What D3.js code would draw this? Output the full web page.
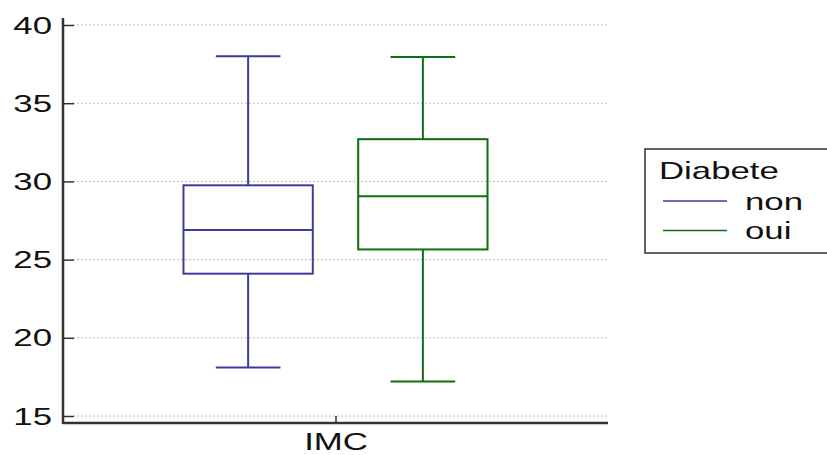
<!DOCTYPE html>
<html>
<head>
<meta charset="utf-8">
<script src="https://cdn.jsdelivr.net/npm/d3@7"></script>
<style>
  body { margin: 0; background: #fff; }
  text { font-family: "Liberation Sans", Arial, sans-serif; }
</style>
</head>
<body>
<svg id="chart" width="827" height="455"></svg>
<script>
const groups = ['non', 'oui'];
const colors = ['#3c3c9c', '#0f6e0f'];
const whiskerLow = [18.1, 17.2];
const q1 = [24.1, 25.65];
const median = [26.9, 29.05];
const q3 = [29.75, 32.7];
const whiskerHigh = [38.0, 37.95];
const yTicks = [15, 20, 25, 30, 35, 40];
const xLabel = 'IMC';
const legendTitle = 'Diabete';

const svg = d3.select('#chart');
const plotLeft = 63, plotRight = 607, plotTop = 18, plotBottom = 423;
const stretch = 1.45; // text in the original is drawn wide

function label(parent, tx, ty, str, anchor) {
  return parent.append('text')
    .attr('transform', `translate(${tx},${ty}) scale(${stretch},1)`)
    .attr('text-anchor', anchor || 'start')
    .attr('font-size', 24).attr('fill', '#111')
    .text(str);
}

const y = d3.scaleLinear().domain([15, 40]).range([416, 25]);
const x = d3.scaleBand().domain(groups).range([166, 505]).paddingInner(0.26).paddingOuter(0.1);

// grid
svg.append('g').selectAll('line').data(yTicks).join('line')
  .attr('x1', plotLeft + 10).attr('x2', plotRight)
  .attr('y1', d => y(d)).attr('y2', d => y(d))
  .attr('stroke', '#bbb').attr('stroke-width', 1).attr('stroke-dasharray', '2,2');

// y axis
const yAxis = svg.append('g').attr('transform', `translate(${plotLeft},0)`)
  .call(d3.axisRight(y).tickValues(yTicks).tickSize(11).tickFormat(''));
yAxis.select('.domain').remove();
yAxis.selectAll('line').attr('stroke', '#333').attr('stroke-width', 1.5);
svg.append('line').attr('x1', plotLeft).attr('x2', plotLeft).attr('y1', plotTop).attr('y2', plotBottom + 1)
  .attr('stroke', '#333').attr('stroke-width', 2.5);
const yLabels = svg.append('g');
yTicks.forEach(t => label(yLabels, 52, y(t) + 8.5, t, 'end'));

// x axis
svg.append('line').attr('x1', plotLeft).attr('x2', plotRight + 1).attr('y1', plotBottom).attr('y2', plotBottom)
  .attr('stroke', '#333').attr('stroke-width', 2.5);
svg.append('line').attr('x1', 336).attr('x2', 336).attr('y1', plotBottom).attr('y2', plotBottom - 7)
  .attr('stroke', '#333').attr('stroke-width', 1.5);
label(svg, 336, 450, xLabel, 'middle');

// boxes
const bw = x.bandwidth();
const capW = bw / 2;
groups.forEach((g, i) => {
  const cx = x(g) + bw / 2;
  const gg = svg.append('g').attr('stroke', colors[i]).attr('fill', 'none').attr('stroke-width', 2);
  gg.append('line').attr('x1', cx).attr('x2', cx).attr('y1', y(whiskerHigh[i])).attr('y2', y(q3[i]));
  gg.append('line').attr('x1', cx).attr('x2', cx).attr('y1', y(q1[i])).attr('y2', y(whiskerLow[i]));
  gg.append('line').attr('x1', cx - capW / 2).attr('x2', cx + capW / 2)
    .attr('y1', y(whiskerHigh[i])).attr('y2', y(whiskerHigh[i]));
  gg.append('line').attr('x1', cx - capW / 2).attr('x2', cx + capW / 2)
    .attr('y1', y(whiskerLow[i])).attr('y2', y(whiskerLow[i]));
  gg.append('rect').attr('x', x(g)).attr('width', bw)
    .attr('y', y(q3[i])).attr('height', y(q1[i]) - y(q3[i]));
  gg.append('line').attr('x1', x(g)).attr('x2', x(g) + bw)
    .attr('y1', y(median[i])).attr('y2', y(median[i]));
});

// legend
const lg = svg.append('g');
lg.append('rect').attr('x', 645).attr('y', 149).attr('width', 200).attr('height', 104)
  .attr('fill', '#fff').attr('stroke', '#333').attr('stroke-width', 1.5);
label(lg, 659, 179, legendTitle);
groups.forEach((g, i) => {
  const ly = 201 + i * 29.5;
  lg.append('line').attr('x1', 663).attr('x2', 727).attr('y1', ly).attr('y2', ly)
    .attr('stroke', colors[i]).attr('stroke-width', 1.5);
  label(lg, 745, ly + 8.5, g);
});
</script>
</body>
</html>
